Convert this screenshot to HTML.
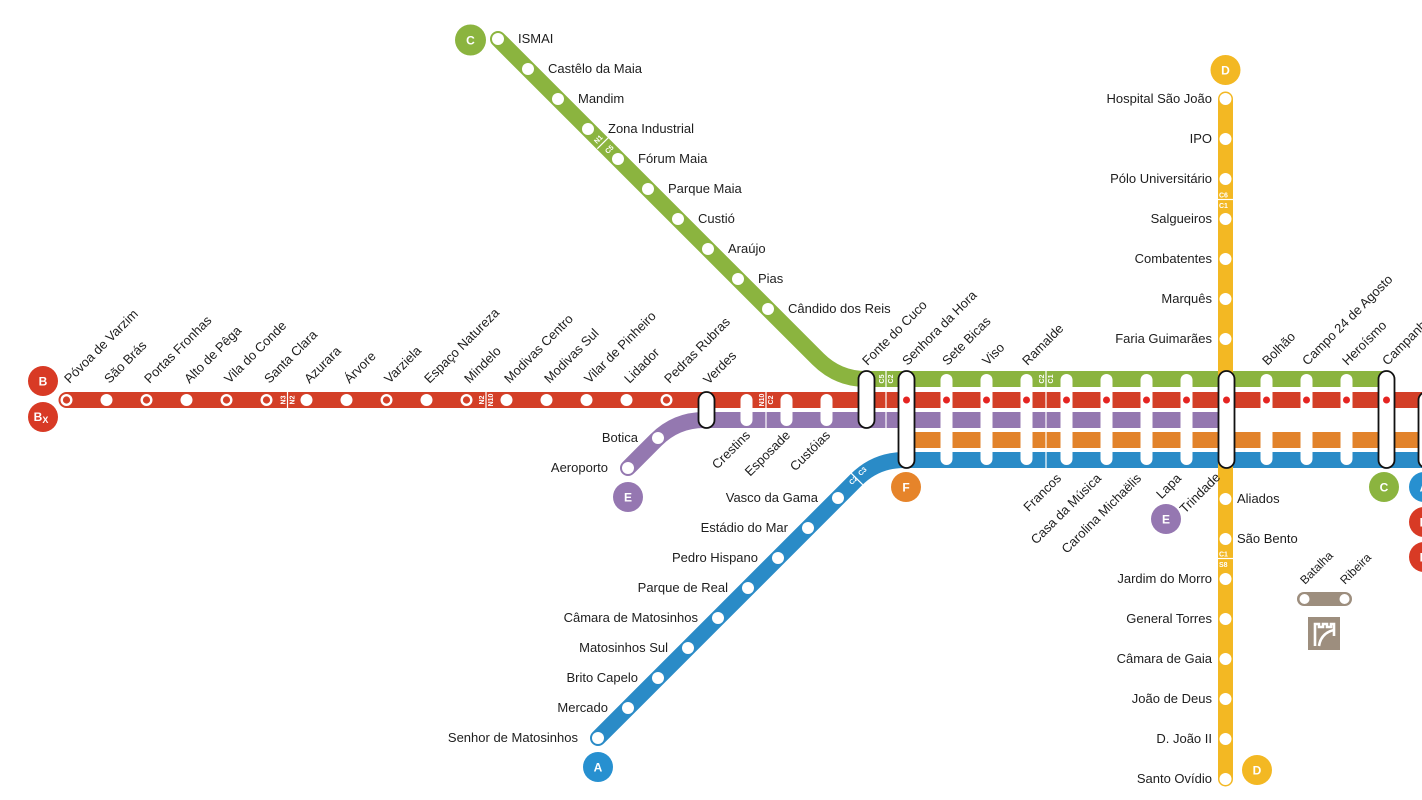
<!DOCTYPE html>
<html><head><meta charset="utf-8">
<style>
html,body{margin:0;padding:0;background:#fff;overflow:hidden;}
svg{display:block;}
text{font-family:"Liberation Sans",sans-serif;}
.l{font-size:13px;fill:#1e1e1e;}
.s{font-size:12px;fill:#1e1e1e;}
.z{font-size:7px;font-weight:bold;fill:#fff;}
.c{font-size:12px;font-weight:bold;fill:#fff;text-anchor:middle;}
.e{text-anchor:end;}
</style></head><body>
<svg width="1422" height="800" viewBox="0 0 1422 800" xmlns="http://www.w3.org/2000/svg">
<rect width="1422" height="800" fill="#fff"/>

<!-- bands -->
<path d="M498 39 L818 359 Q838 379 866 379 L1384 379" fill="none" stroke="#8bb43f" stroke-width="16" stroke-linecap="round"/>
<path d="M66.5 400 H1440" fill="none" stroke="#d33f27" stroke-width="16" stroke-linecap="round"/>
<path d="M628 468 L656 440 Q676 420 704 420 L1226 420" fill="none" stroke="#9478b0" stroke-width="16" stroke-linecap="round"/>
<path d="M906 440 H1440" fill="none" stroke="#e2832b" stroke-width="16"/>
<path d="M598 738 L856 480 Q876 460 904 460 H1440" fill="none" stroke="#2a8bc7" stroke-width="16" stroke-linecap="round"/>
<path d="M1225.5 99 V779" fill="none" stroke="#f3b823" stroke-width="15" stroke-linecap="round"/>

<!-- zone dividers -->
<g stroke="#fff" stroke-width="1.2">
<line x1="287.5" y1="392" x2="287.5" y2="408"/>
<line x1="486" y1="392" x2="486" y2="408"/>
<line x1="766" y1="392" x2="766" y2="428"/>
<line x1="886" y1="371" x2="886" y2="428"/>
<line x1="1046" y1="371" x2="1046" y2="470"/>
<line x1="1218" y1="199.5" x2="1233" y2="199.5"/>
<line x1="1218" y1="558.5" x2="1233" y2="558.5"/>
<line x1="597.3" y1="148.7" x2="608.7" y2="137.3"/>
<line x1="851.3" y1="473.3" x2="862.7" y2="484.7"/>
</g>
<g class="z" text-anchor="middle">
<text transform="translate(285.5 400) rotate(-90)">N3</text>
<text transform="translate(294.5 400) rotate(-90)">N2</text>
<text transform="translate(484 400) rotate(-90)">N2</text>
<text transform="translate(493 400) rotate(-90)">N10</text>
<text transform="translate(764 400) rotate(-90)">N10</text>
<text transform="translate(773 400) rotate(-90)">C2</text>
<text transform="translate(884 379) rotate(-90)">C5</text>
<text transform="translate(893 379) rotate(-90)">C2</text>
<text transform="translate(1044 379) rotate(-90)">C2</text>
<text transform="translate(1053 379) rotate(-90)">C1</text>
<text transform="translate(600 141) rotate(-45)">N1</text>
<text transform="translate(611 151) rotate(-45)">C5</text>
<text transform="translate(855 482) rotate(-45)">C2</text>
<text transform="translate(864 473) rotate(-45)">C3</text>
</g>
<g class="z" font-size="7.5">
<text x="1219" y="197.5">C6</text>
<text x="1219" y="208">C1</text>
<text x="1219" y="556.5">C1</text>
<text x="1219" y="567">S8</text>
</g>

<!-- trunk pills -->
<g fill="#fff">
<rect x="740.5" y="394" width="12" height="32" rx="6"/>
<rect x="780.5" y="394" width="12" height="32" rx="6"/>
<rect x="820.5" y="394" width="12" height="32" rx="6"/>
<rect x="940.5" y="374" width="12" height="91" rx="6"/>
<rect x="980.5" y="374" width="12" height="91" rx="6"/>
<rect x="1020.5" y="374" width="12" height="91" rx="6"/>
<rect x="1060.5" y="374" width="12" height="91" rx="6"/>
<rect x="1100.5" y="374" width="12" height="91" rx="6"/>
<rect x="1140.5" y="374" width="12" height="91" rx="6"/>
<rect x="1180.5" y="374" width="12" height="91" rx="6"/>
<rect x="1260.5" y="374" width="12" height="91" rx="6"/>
<rect x="1300.5" y="374" width="12" height="91" rx="6"/>
<rect x="1340.5" y="374" width="12" height="91" rx="6"/>
</g>
<g fill="#fff" stroke="#111" stroke-width="1.8">
<rect x="698.5" y="392" width="16" height="36" rx="8"/>
<rect x="858.5" y="371" width="16" height="57" rx="8"/>
<rect x="898.5" y="371" width="16" height="97" rx="8"/>
<rect x="1218.5" y="371" width="16" height="97" rx="8"/>
<rect x="1378.5" y="371" width="16" height="97" rx="8"/>
<rect x="1418.5" y="392" width="16" height="76" rx="8"/>
</g>
<g fill="#e52421">
<circle cx="906.5" cy="400" r="3.5"/><circle cx="946.5" cy="400" r="3.5"/><circle cx="986.5" cy="400" r="3.5"/>
<circle cx="1026.5" cy="400" r="3.5"/><circle cx="1066.5" cy="400" r="3.5"/><circle cx="1106.5" cy="400" r="3.5"/>
<circle cx="1146.5" cy="400" r="3.5"/><circle cx="1186.5" cy="400" r="3.5"/><circle cx="1226.5" cy="400" r="3.5"/>
<circle cx="1266.5" cy="400" r="3.5"/><circle cx="1306.5" cy="400" r="3.5"/><circle cx="1346.5" cy="400" r="3.5"/>
<circle cx="1386.5" cy="400" r="3.5"/><circle cx="1426.5" cy="400" r="3.5"/>
</g>

<!-- station circles -->
<g fill="#fff">
<circle cx="66.5" cy="400" r="6"/><circle cx="106.5" cy="400" r="6"/><circle cx="146.5" cy="400" r="6"/>
<circle cx="186.5" cy="400" r="6"/><circle cx="226.5" cy="400" r="6"/><circle cx="266.5" cy="400" r="6"/>
<circle cx="306.5" cy="400" r="6"/><circle cx="346.5" cy="400" r="6"/><circle cx="386.5" cy="400" r="6"/>
<circle cx="426.5" cy="400" r="6"/><circle cx="466.5" cy="400" r="6"/><circle cx="506.5" cy="400" r="6"/>
<circle cx="546.5" cy="400" r="6"/><circle cx="586.5" cy="400" r="6"/><circle cx="626.5" cy="400" r="6"/>
<circle cx="666.5" cy="400" r="6"/>
<circle cx="498" cy="39" r="6"/><circle cx="528" cy="69" r="6"/><circle cx="558" cy="99" r="6"/>
<circle cx="588" cy="129" r="6"/><circle cx="618" cy="159" r="6"/><circle cx="648" cy="189" r="6"/>
<circle cx="678" cy="219" r="6"/><circle cx="708" cy="249" r="6"/><circle cx="738" cy="279" r="6"/>
<circle cx="768" cy="309" r="6"/>
<circle cx="598" cy="738" r="6"/><circle cx="628" cy="708" r="6"/><circle cx="658" cy="678" r="6"/>
<circle cx="688" cy="648" r="6"/><circle cx="718" cy="618" r="6"/><circle cx="748" cy="588" r="6"/>
<circle cx="778" cy="558" r="6"/><circle cx="808" cy="528" r="6"/><circle cx="838" cy="498" r="6"/>
<circle cx="628" cy="468" r="6"/><circle cx="658" cy="438" r="6"/>
<circle cx="1225.5" cy="99" r="6"/><circle cx="1225.5" cy="139" r="6"/><circle cx="1225.5" cy="179" r="6"/>
<circle cx="1225.5" cy="219" r="6"/><circle cx="1225.5" cy="259" r="6"/><circle cx="1225.5" cy="299" r="6"/>
<circle cx="1225.5" cy="339" r="6"/>
<circle cx="1225.5" cy="499" r="6"/><circle cx="1225.5" cy="539" r="6"/><circle cx="1225.5" cy="579" r="6"/>
<circle cx="1225.5" cy="619" r="6"/><circle cx="1225.5" cy="659" r="6"/><circle cx="1225.5" cy="699" r="6"/>
<circle cx="1225.5" cy="739" r="6"/><circle cx="1225.5" cy="779" r="6"/>
</g>
<g fill="#d33f27">
<circle cx="66.5" cy="400" r="3.6"/><circle cx="146.5" cy="400" r="3.6"/><circle cx="226.5" cy="400" r="3.6"/>
<circle cx="266.5" cy="400" r="3.6"/><circle cx="386.5" cy="400" r="3.6"/><circle cx="466.5" cy="400" r="3.6"/>
<circle cx="666.5" cy="400" r="3.6"/>
</g>

<g class="l">
<text transform="translate(69.5 384) rotate(-45)">Póvoa de Varzim</text>
<text transform="translate(109.5 384) rotate(-45)">São Brás</text>
<text transform="translate(149.5 384) rotate(-45)">Portas Fronhas</text>
<text transform="translate(189.5 384) rotate(-45)">Alto de Pêga</text>
<text transform="translate(229.5 384) rotate(-45)">Vila do Conde</text>
<text transform="translate(269.5 384) rotate(-45)">Santa Clara</text>
<text transform="translate(309.5 384) rotate(-45)">Azurara</text>
<text transform="translate(349.5 384) rotate(-45)">Árvore</text>
<text transform="translate(389.5 384) rotate(-45)">Varziela</text>
<text transform="translate(429.5 384) rotate(-45)">Espaço Natureza</text>
<text transform="translate(469.5 384) rotate(-45)">Mindelo</text>
<text transform="translate(509.5 384) rotate(-45)">Modivas Centro</text>
<text transform="translate(549.5 384) rotate(-45)">Modivas Sul</text>
<text transform="translate(589.5 384) rotate(-45)">Vilar de Pinheiro</text>
<text transform="translate(629.5 384) rotate(-45)">Lidador</text>
<text transform="translate(669.5 384) rotate(-45)">Pedras Rubras</text>
<text transform="translate(708.5 385) rotate(-45)">Verdes</text>

<text class="e" transform="translate(751 436) rotate(-45)">Crestins</text>
<text class="e" transform="translate(791 436) rotate(-45)">Esposade</text>
<text class="e" transform="translate(831 436) rotate(-45)">Custóias</text>

<text transform="translate(867.5 366) rotate(-45)">Fonte do Cuco</text>
<text transform="translate(907.5 366) rotate(-45)">Senhora da Hora</text>
<text transform="translate(947.5 366) rotate(-45)">Sete Bicas</text>
<text transform="translate(987.5 366) rotate(-45)">Viso</text>
<text transform="translate(1027.5 366) rotate(-45)">Ramalde</text>
<text transform="translate(1267.5 366) rotate(-45)">Bolhão</text>
<text transform="translate(1307.5 366) rotate(-45)">Campo 24 de Agosto</text>
<text transform="translate(1347.5 366) rotate(-45)">Heroísmo</text>
<text transform="translate(1387.5 366) rotate(-45)">Campanhã</text>

<text class="e" transform="translate(1062 479) rotate(-45)">Francos</text>
<text class="e" transform="translate(1102 479) rotate(-45)">Casa da Música</text>
<text class="e" transform="translate(1142 479) rotate(-45)">Carolina Michaëlis</text>
<text class="e" transform="translate(1182 479) rotate(-45)">Lapa</text>
<text class="e" transform="translate(1221 478) rotate(-45)">Trindade</text>

<text x="518" y="43">ISMAI</text>
<text x="548" y="73">Castêlo da Maia</text>
<text x="578" y="103">Mandim</text>
<text x="608" y="133">Zona Industrial</text>
<text x="638" y="163">Fórum Maia</text>
<text x="668" y="193">Parque Maia</text>
<text x="698" y="223">Custió</text>
<text x="728" y="253">Araújo</text>
<text x="758" y="283">Pias</text>
<text x="788" y="313">Cândido dos Reis</text>

<text class="e" x="578" y="742">Senhor de Matosinhos</text>
<text class="e" x="608" y="712">Mercado</text>
<text class="e" x="638" y="682">Brito Capelo</text>
<text class="e" x="668" y="652">Matosinhos Sul</text>
<text class="e" x="698" y="622">Câmara de Matosinhos</text>
<text class="e" x="728" y="592">Parque de Real</text>
<text class="e" x="758" y="562">Pedro Hispano</text>
<text class="e" x="788" y="532">Estádio do Mar</text>
<text class="e" x="818" y="502">Vasco da Gama</text>

<text class="e" x="638" y="442">Botica</text>
<text class="e" x="608" y="472">Aeroporto</text>

<text class="e" x="1212" y="103">Hospital São João</text>
<text class="e" x="1212" y="143">IPO</text>
<text class="e" x="1212" y="183">Pólo Universitário</text>
<text class="e" x="1212" y="223">Salgueiros</text>
<text class="e" x="1212" y="263">Combatentes</text>
<text class="e" x="1212" y="303">Marquês</text>
<text class="e" x="1212" y="343">Faria Guimarães</text>
<text x="1237" y="503">Aliados</text>
<text x="1237" y="543">São Bento</text>
<text class="e" x="1212" y="583">Jardim do Morro</text>
<text class="e" x="1212" y="623">General Torres</text>
<text class="e" x="1212" y="663">Câmara de Gaia</text>
<text class="e" x="1212" y="703">João de Deus</text>
<text class="e" x="1212" y="743">D. João II</text>
<text class="e" x="1212" y="783">Santo Ovídio</text>
</g>

<rect x="1297" y="592" width="55" height="14" rx="7" fill="#9d8e7e"/>
<circle cx="1304.5" cy="599" r="5" fill="#fff"/>
<circle cx="1344.5" cy="599" r="5" fill="#fff"/>
<text class="s" transform="translate(1305 585) rotate(-45)">Batalha</text>
<text class="s" transform="translate(1345 585) rotate(-45)">Ribeira</text>
<rect x="1308" y="617" width="32" height="33" fill="#9d8e7e"/>
<path d="M1315 646 V624 H1319 V627 H1323 V624 H1327 V627 H1331 V624 H1334 V636" fill="none" stroke="#fff" stroke-width="2.6"/>
<path d="M1319 646 Q1321 633 1334 630" fill="none" stroke="#fff" stroke-width="2.6"/>

<circle cx="43" cy="381" r="15" fill="#d83a25"/><text class="c" x="43" y="385.5">B</text>
<circle cx="43" cy="417" r="15" fill="#d83a25"/><text class="c" x="41" y="421">B<tspan font-size="9" dy="2">X</tspan></text>
<circle cx="470.5" cy="40" r="15.5" fill="#8bb43f"/><text class="c" x="470.5" y="44.5">C</text>
<circle cx="628" cy="497" r="15" fill="#9577b1"/><text class="c" x="628" y="501.5">E</text>
<circle cx="598" cy="767" r="15" fill="#2790d0"/><text class="c" x="598" y="771.5">A</text>
<circle cx="906" cy="487" r="15" fill="#e6842a"/><text class="c" x="906" y="491.5">F</text>
<circle cx="1166" cy="519" r="15" fill="#9577b1"/><text class="c" x="1166" y="523.5">E</text>
<circle cx="1225.5" cy="70" r="15" fill="#f3b823"/><text class="c" x="1225.5" y="74.5">D</text>
<circle cx="1257" cy="770" r="15" fill="#f3b823"/><text class="c" x="1257" y="774.5">D</text>
<circle cx="1384" cy="487" r="15" fill="#8bb43f"/><text class="c" x="1384" y="491.5">C</text>
<circle cx="1424" cy="487" r="15" fill="#2790d0"/><text class="c" x="1424" y="491.5">A</text>
<circle cx="1424" cy="522" r="15" fill="#d83a25"/><text class="c" x="1424" y="526.5">B</text>
<circle cx="1424" cy="557" r="15" fill="#d83a25"/><text class="c" x="1424" y="561.5">B</text>
</svg>
</body></html>
